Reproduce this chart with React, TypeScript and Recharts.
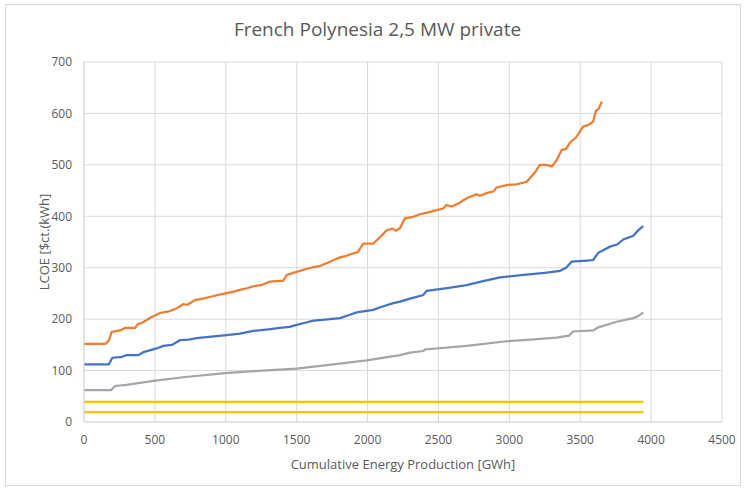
import React from 'react'
import { LineChart, Line, XAxis, YAxis, CartesianGrid, Label } from 'recharts'

// [GWh, $ct/kWh] points
const orangeSeries: [number, number][] = [
  [0, 152], [150, 152], [175, 158], [195, 175], [254, 178], [290, 183], [360, 183], [380, 190], [410, 193],
  [440, 198], [477, 204], [536, 212], [600, 215], [653, 221], [700, 229], [730, 228], [783, 237], [840, 240],
  [900, 244], [994, 250], [1050, 253], [1100, 257], [1150, 260], [1194, 264], [1250, 266], [1312, 273],
  [1406, 275], [1430, 286], [1500, 292], [1560, 297], [1617, 301], [1660, 303], [1723, 310], [1760, 315],
  [1806, 320], [1850, 323], [1900, 328], [1930, 330], [1970, 347], [2040, 347], [2090, 360], [2135, 373],
  [2175, 376], [2200, 372], [2229, 377], [2264, 396], [2300, 398], [2322, 399], [2370, 404], [2420, 407],
  [2487, 412], [2534, 415], [2557, 422], [2593, 419], [2640, 425], [2699, 435], [2769, 443], [2793, 440],
  [2850, 446], [2887, 448], [2910, 456], [2990, 461], [3050, 462], [3122, 467], [3180, 485], [3216, 500],
  [3260, 500], [3300, 497], [3334, 509], [3369, 529], [3400, 531], [3430, 544], [3470, 553], [3520, 574],
  [3560, 578], [3591, 584], [3610, 605], [3630, 609], [3653, 623],
]
const blueSeries: [number, number][] = [
  [0, 112], [175, 112], [200, 125], [260, 126], [300, 130], [383, 130], [420, 136], [512, 143], [560, 148],
  [620, 150], [677, 159], [740, 160], [795, 163], [900, 166], [1006, 169], [1100, 172], [1194, 177],
  [1300, 180], [1382, 183], [1450, 185], [1500, 189], [1560, 193], [1617, 197], [1700, 199], [1806, 202],
  [1860, 207], [1923, 213], [2040, 218], [2100, 224], [2182, 231], [2229, 234], [2300, 240], [2393, 247],
  [2417, 255], [2550, 260], [2699, 266], [2800, 273], [2934, 281], [3099, 286], [3250, 290], [3357, 294],
  [3400, 300], [3440, 312], [3550, 314], [3592, 315], [3627, 329], [3710, 341], [3760, 345], [3804, 355],
  [3874, 362], [3910, 373], [3945, 381],
]
const graySeries: [number, number][] = [
  [0, 62], [190, 62], [220, 70], [300, 72], [489, 80], [700, 87], [994, 95], [1200, 99], [1500, 104],
  [1700, 110], [1994, 120], [2229, 130], [2300, 135], [2393, 138], [2405, 141], [2699, 148], [2981, 157],
  [3150, 160], [3334, 164], [3420, 168], [3451, 176], [3592, 178], [3627, 184], [3700, 190], [3757, 195],
  [3874, 202], [3910, 206], [3945, 213],
]
const yellowHigh: [number, number][] = [[0, 39], [3945, 39]]
const yellowLow: [number, number][] = [[0, 19], [3945, 19]]

const xTicks = [0, 500, 1000, 1500, 2000, 2500, 3000, 3500, 4000, 4500]
const yTicks = [0, 100, 200, 300, 400, 500, 600, 700]

const toData = (pts: [number, number][]) => pts.map(([x, y]) => ({ x, y }))

const series = [
  { key: 'orange', pts: orangeSeries, color: '#ED7D31' },
  { key: 'blue', pts: blueSeries, color: '#4472C4' },
  { key: 'gray', pts: graySeries, color: '#A5A5A5' },
  { key: 'yhigh', pts: yellowHigh, color: '#FFC000' },
  { key: 'ylow', pts: yellowLow, color: '#FFC000' },
]

const font = '"Open Sans", sans-serif'
const tick = { fontSize: 12, fill: '#595959', fontFamily: font }

export default function App() {
  return (
    <div style={{ position: 'absolute', left: 0, top: 0, width: 745, height: 489, background: '#fff' }}>
      <div style={{ position: 'absolute', left: 5, top: 4, width: 734, height: 480, border: '1px solid #d9d9d9' }} />
      <div style={{ position: 'absolute', left: 0, top: 16, width: 755, textAlign: 'center', fontFamily: font, fontSize: 19, color: '#595959' }}>
        French Polynesia 2,5 MW private
      </div>
      <div style={{ position: 'absolute', left: 0, top: 0 }}>
        <LineChart width={745} height={489} margin={{ top: 62, right: 23, left: 0, bottom: 0 }}>
          <CartesianGrid stroke="#d9d9d9" strokeWidth={1} />
          <XAxis type="number" dataKey="x" domain={[0, 4500]} ticks={xTicks} allowDuplicatedCategory={false}
            height={67} tick={tick} tickLine={false} axisLine={{ stroke: '#d9d9d9' }} tickMargin={7}>
            <Label value="Cumulative Energy Production [GWh]" position="insideBottom" offset={20}
              style={{ fontSize: 13, fill: '#595959', fontFamily: font }} />
          </XAxis>
          <YAxis type="number" dataKey="y" domain={[0, 700]} ticks={yTicks} width={84}
            tick={tick} tickLine={false} axisLine={{ stroke: '#d9d9d9' }} tickMargin={6}>
            <Label value="LCOE [$ct.(kWh]" angle={-90} position="insideLeft" offset={44}
              style={{ fontSize: 13, fill: '#595959', fontFamily: font, textAnchor: 'middle' }} />
          </YAxis>
          {series.map(s => (
            <Line key={s.key} data={toData(s.pts)} dataKey="y" type="linear" stroke={s.color}
              strokeWidth={2.25} dot={false} activeDot={false} isAnimationActive={false} />
          ))}
        </LineChart>
      </div>
    </div>
  )
}
